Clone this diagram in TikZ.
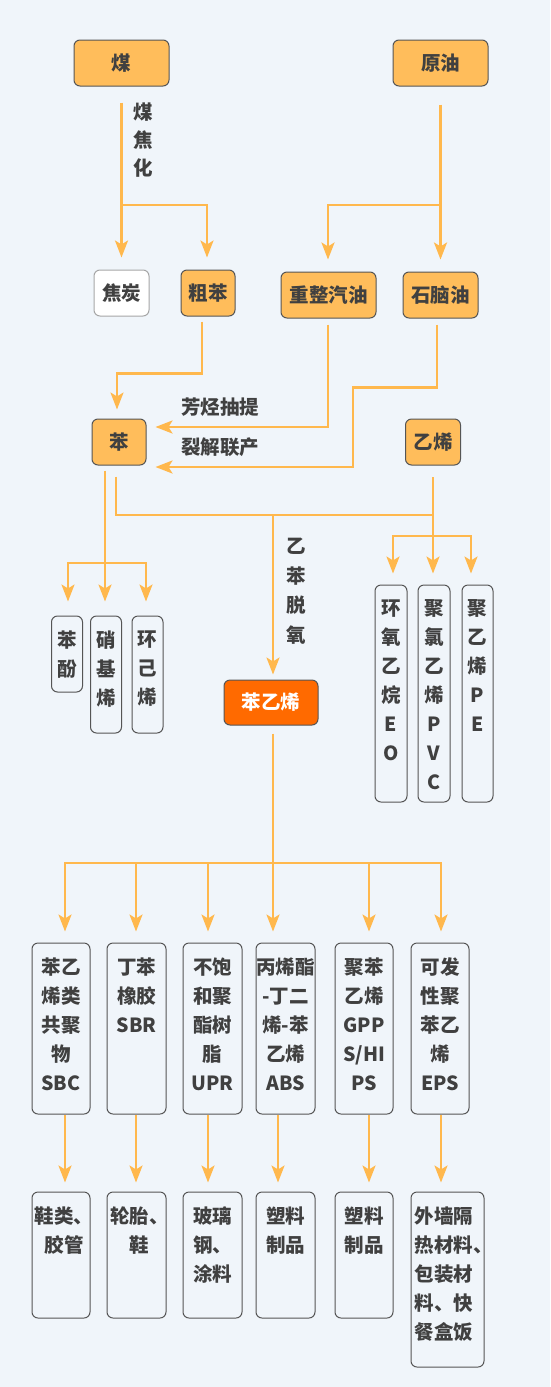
\documentclass[tikz,border=0pt]{standalone}
\usepackage{fontspec}
\newfontfamily\cjk{Noto Sans CJK SC}
\usepackage{tikz}
\usetikzlibrary{arrows.meta}
\usetikzlibrary{positioning}
\definecolor{bgblue}{HTML}{F0F5FA}
\definecolor{lineorange}{HTML}{FFB84D}
\definecolor{boxorange}{HTML}{FFBD5B}
\definecolor{darkorange}{HTML}{FF6A00}
\definecolor{boxline}{HTML}{555555}
\definecolor{txtgray}{HTML}{404040}
\newcommand{\boxfont}{\cjk\bfseries\fontsize{19.5}{29}\selectfont}
\tikzstyle{arrow} = [line width=2.5pt, draw=lineorange, -{Stealth[length=17pt,width=13pt,inset=4pt]}]
\tikzstyle{link} = [line width=2.5pt, draw=lineorange]
\tikzstyle{feed} = [
    rectangle, rounded corners=6pt, minimum width=95pt, minimum height=46pt, inner sep=0pt,
    draw=boxline, line width=1pt, fill=boxorange, text=txtgray, font=\boxfont]
\tikzstyle{plain} = [
    rectangle, rounded corners=6pt, minimum width=55pt, minimum height=46pt, inner sep=0pt,
    draw=gray!70, line width=1pt, fill=white, text=txtgray, font=\boxfont]
\tikzstyle{tall} = [rectangle, rounded corners=6pt, inner sep=0pt, draw=boxline, line width=1pt]
\tikzstyle{talltext} = [anchor=north, yshift=-15pt, inner sep=0pt, align=center, text=txtgray, font=\boxfont]
\tikzstyle{note} = [inner sep=0pt, align=center, text=txtgray, font=\boxfont]

\begin{document}
\begin{tikzpicture}[x=1pt,y=-1pt]
\useasboundingbox (0,0) rectangle (550,1387);
\fill [bgblue] (0,0) rectangle (550,1387);

\node (mei) [feed] at (121.5,63) {煤};
\node (yuanyou) [feed] at (440.5,63) {原油};
\node (jiaotan) [plain] at (121.5,293) {焦炭};
\node (cuben) [feed, minimum width=54pt] at (208,293) {粗苯};
\node (zhengzheng) [feed] at (328.5,295) {重整汽油};
\node (shinao) [feed, minimum width=75pt] at (440.5,295) {石脑油};
\node (ben) [feed, minimum width=54pt] at (119,442) {苯};
\node (yixi) [feed, minimum width=55pt] at (433,442) {乙烯};
\node (benyixi) [feed, fill=darkorange, text=white, minimum width=94pt, minimum height=45pt] at (271,702.5) {苯乙烯};

\node (coking) [note, font=\cjk\bfseries\fontsize{19.5}{28}\selectfont] at (143,140) {煤\\焦\\化};
\node (aromatic) [note] at (220,407) {芳烃抽提};
\node (cracking) [note] at (220,447) {裂解联产};
\node (dehydro) [note, font=\cjk\bfseries\fontsize{19.5}{29.5}\selectfont] at (296,591) {乙\\苯\\脱\\氧};

\node (benfen) [tall, minimum width=31pt, minimum height=76pt, label={[talltext]north:苯\\酚}] at (67,654) {};
\node (xiaoji) [tall, minimum width=31pt, minimum height=117pt, label={[talltext]north:硝\\基\\烯}] at (106,674.5) {};
\node (huanji) [tall, minimum width=31pt, minimum height=117pt, label={[talltext]north:环\\己\\烯}] at (147.5,674.5) {};
\node (eo) [tall, minimum width=32pt, minimum height=217pt, label={[talltext]north:环\\氧\\乙\\烷\\E\\O}] at (391,693.5) {};
\node (pvc) [tall, minimum width=32pt, minimum height=217pt, label={[talltext]north:聚\\氯\\乙\\烯\\P\\V\\C}] at (434,693.5) {};
\node (pe) [tall, minimum width=31pt, minimum height=217pt, label={[talltext]north:聚\\乙\\烯\\P\\E}] at (477.5,693.5) {};

\node (sbc) [tall, minimum width=58pt, minimum height=171pt, label={[talltext]north:苯乙\\烯类\\共聚\\物\\SBC}] at (61,1028.5) {};
\node (sbr) [tall, minimum width=59pt, minimum height=171pt, label={[talltext]north:丁苯\\橡胶\\SBR}] at (136.5,1028.5) {};
\node (upr) [tall, minimum width=59pt, minimum height=171pt, label={[talltext]north:不饱\\和聚\\酯树\\脂\\UPR}] at (212.5,1028.5) {};
\node (abs) [tall, minimum width=59pt, minimum height=171pt, label={[talltext]north:丙烯酯\\-丁二\\烯-苯\\乙烯\\ABS}] at (285.5,1028.5) {};
\node (gpps) [tall, minimum width=58pt, minimum height=171pt, label={[talltext]north:聚苯\\乙烯\\GPP\\S/HI\\PS}] at (364,1028.5) {};
\node (eps) [tall, minimum width=58pt, minimum height=171pt, label={[talltext]north:可发\\性聚\\苯乙\\烯\\EPS}] at (440,1028.5) {};

\node (shoes) [tall, minimum width=58pt, minimum height=126pt, label={[talltext, xshift=3pt]north:鞋类、\\胶管}] at (61,1255) {};
\node (tyre) [tall, minimum width=59pt, minimum height=126pt, label={[talltext, xshift=3pt]north:轮胎、\\鞋}] at (136.5,1255) {};
\node (frp) [tall, minimum width=59pt, minimum height=126pt, label={[talltext]north:玻璃\\钢、\\涂料}] at (212.5,1255) {};
\node (plasa) [tall, minimum width=59pt, minimum height=126pt, label={[talltext]north:塑料\\制品}] at (285.5,1255) {};
\node (plasb) [tall, minimum width=58pt, minimum height=126pt, label={[talltext]north:塑料\\制品}] at (364,1255) {};
\node (foam) [tall, minimum width=73pt, minimum height=175pt, label={[talltext, align=left, xshift=6pt]north:外墙隔\\热材料、\\包装材\\料、快\\餐盒饭}] at (447.5,1279.5) {};

\coordinate (coalsplit) at (122,205);
\coordinate (oilsplit) at (441,205);
\coordinate (bensplit) at (105,563);
\coordinate (merge) at (273,515);
\coordinate (ethsplit) at (433,536);
\coordinate (fan) at (273,863);

\draw [arrow, shorten <=16pt, shorten >=12pt] (mei) -- (jiaotan);
\draw [arrow, shorten >=12pt] (coalsplit) -| ([xshift=-1pt]cuben.north);
\draw [arrow, shorten <=18pt, shorten >=12pt] (yuanyou) -- (shinao);
\draw [arrow, shorten >=12pt] (oilsplit) -| ([xshift=-0.5pt]zhengzheng.north);
\draw [arrow, shorten <=5pt, shorten >=9pt] ([xshift=-6pt]cuben.south) -- ++(0,57) -| ([xshift=-2pt]ben.north);
\draw [arrow, shorten <=6pt, shorten >=9pt] ([xshift=-0.5pt]zhengzheng.south) |- ([yshift=15pt]ben.east);
\draw [arrow, shorten <=6pt, shorten >=9pt] ([xshift=-3.5pt]shinao.south) -- ++(0,69) -- ++(-84,0) |- ([yshift=-25pt]ben.east);

\draw [arrow, shorten <=5pt, shorten >=14pt] ([xshift=-14pt]ben.south) -- ([xshift=-1pt]xiaoji.north);
\draw [arrow, shorten >=14pt] (bensplit) -| ([xshift=1pt]benfen.north);
\draw [arrow, shorten >=14pt] (bensplit) -| ([xshift=-1.5pt]huanji.north);

\draw [link, shorten <=11pt, shorten >=11pt] ([xshift=-3pt]ben.south) |- (merge) -| (yixi.south);
\draw [arrow, shorten >=5pt] (merge) -- (merge |- benyixi.north);
\draw [arrow, shorten >=11pt] (yixi.south |- merge) -- (yixi.south |- pvc.north);
\draw [arrow, shorten >=11pt] (ethsplit) -| ([xshift=2pt]eo.north);
\draw [arrow, shorten >=11pt] (ethsplit) -| ([xshift=-6.5pt]pe.north);

\draw [link, shorten <=8pt] (benyixi.south -| fan) -- (fan);
\foreach \n/\dx in {sbc/4,sbr/-0.5,upr/-4.5,abs/-12.5,gpps/5,eps/1}
    \draw [arrow, shorten >=11pt] (fan) -| ([xshift=\dx pt]\n.north);
\foreach \a/\b/\dx in {sbc/shoes/4,sbr/tyre/-0.5,upr/frp/-4.5,abs/plasa/-7.5,gpps/plasb/5,eps/foam/1}
    \draw [arrow, shorten >=9pt] ([xshift=\dx pt]\a.south) -- ([xshift=\dx pt]\a.south |- \b.north);
\end{tikzpicture}
\end{document}
